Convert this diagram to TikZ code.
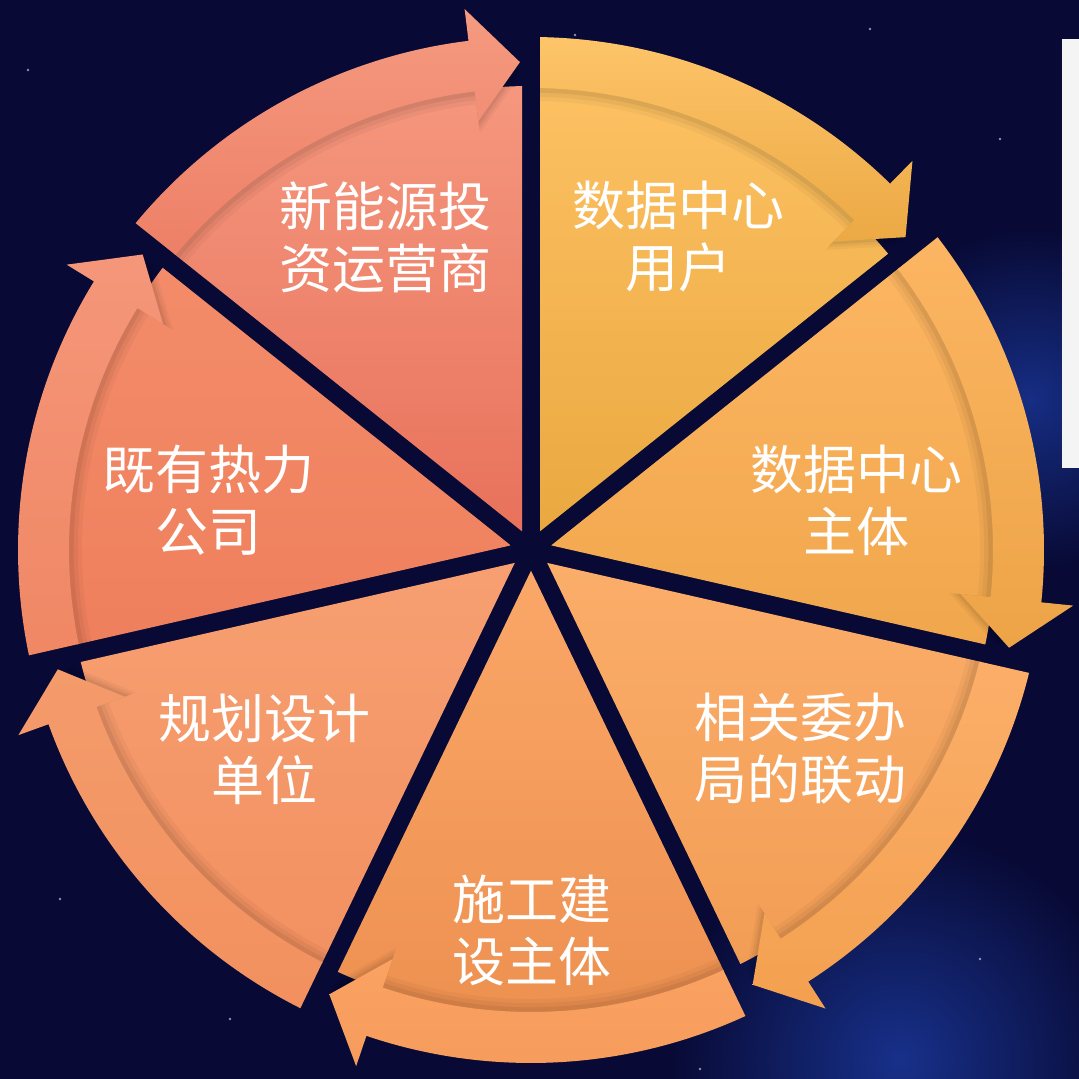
\documentclass[tikz,border=0pt]{standalone}
\usepackage{fontspec}
\newfontfamily\cjkfont{Noto Sans CJK SC}
\usetikzlibrary{calc}
\definecolor{bg}{HTML}{080A35}
\definecolor{neb}{HTML}{2045B8}
\definecolor{panel}{HTML}{F4F4F4}
\tikzset{
  bandp/.style={insert path={(\bs:513) arc[start angle=\bs,end angle=\hb,radius=513]
     -- (\hb:545) -- (\tp:488) -- (\hb:432) -- (\hb:462)
     arc[start angle=\hb,end angle=\bs,radius=462] -- cycle}},
  lbl/.style={text=white,font=\cjkfont\fontsize{53}{62}\selectfont,align=center,inner sep=0pt}
}
\newcommand\mysector[5]{%
  \definecolor{wtop}{HTML}{#2}%
  \definecolor{wbot}{HTML}{#3}%
  \definecolor{btop}{HTML}{#4}%
  \definecolor{bbot}{HTML}{#5}%
  \pgfmathsetmacro\sa{#1}%
  \pgfmathsetmacro\ea{#1-360/7}%
  \pgfmathsetmacro\ma{#1-180/7}%
  \pgfmathsetmacro\bs{#1+3}%
  \pgfmathsetmacro\hb{#1-360/7+7}%
  \pgfmathsetmacro\tp{#1-360/7+1.3}%
  \begin{scope}
    \clip (\ma:20.74) -- ($(\ma:20.74)+(\sa:800)$) -- ($(\ma:20.74)+(\ea:800)$) -- cycle;
    \shade[top color=wtop,bottom color=wbot] (0,0) -- (\sa:464) arc[start angle=\sa,end angle=\ea,radius=464] -- cycle;
    \fill[black,opacity=.035,scale=.972,bandp];
    \fill[black,opacity=.045,scale=.981,bandp];
    \fill[black,opacity=.06,scale=.990,bandp];
    \shade[top color=btop,bottom color=bbot,bandp];
  \end{scope}}
\begin{document}
\begin{tikzpicture}[x=1pt,y=1pt]
\useasboundingbox (0,0) rectangle (1079,1079);
% background
\fill[bg] (0,0) rectangle (1079,1079);
\shade[inner color=neb!60!bg,outer color=bg] (1030,680) circle (170);
\shade[inner color=neb!65!bg,outer color=bg] (900,19) circle (230);
\foreach \px/\py in {575/1044,28/1009,940/789,1000/940,870/1050,60/180,980/120,230/60,700/10,1040/560}
  \fill[white,opacity=.55] (\px,\py) circle (1.3);
% white panel
\fill[panel] (1062,611) rectangle (1080,1040);
% diagram
\begin{scope}[shift={(531,529)}]
  \mysector{90}{FDC163}{E9A73E}{FEC56A}{ECA944}
  \mysector{38.5714}{FCB562}{F0A64B}{FDB664}{EDA447}
  \mysector{-12.8571}{FBAE6A}{F29D55}{FDB06C}{F3A04F}
  \mysector{-64.2857}{FBA868}{ED9050}{FBA363}{F59A5B}
  \mysector{-115.7143}{F7A072}{F29060}{F49B6B}{F2905E}
  \mysector{-167.1429}{F38C6A}{EF7F5C}{F5967A}{EF8662}
  \mysector{141.4286}{F5977E}{E8705A}{F59A80}{EC7D64}
\end{scope}
% labels
\node[lbl] (t0) at (678,842) {数据中心\\用户};
\node[lbl] (t1) at (856,579) {数据中心\\主体};
\node[lbl] (t2) at (800,330) {相关委办\\局的联动};
\node[lbl] (t3) at (532,149) {施工建\\设主体};
\node[lbl] (t4) at (264,330) {规划设计\\单位};
\node[lbl] (t5) at (208,579) {既有热力\\公司};
\node[lbl] (t6) at (385,842) {新能源投\\资运营商};
\end{tikzpicture}
\end{document}
